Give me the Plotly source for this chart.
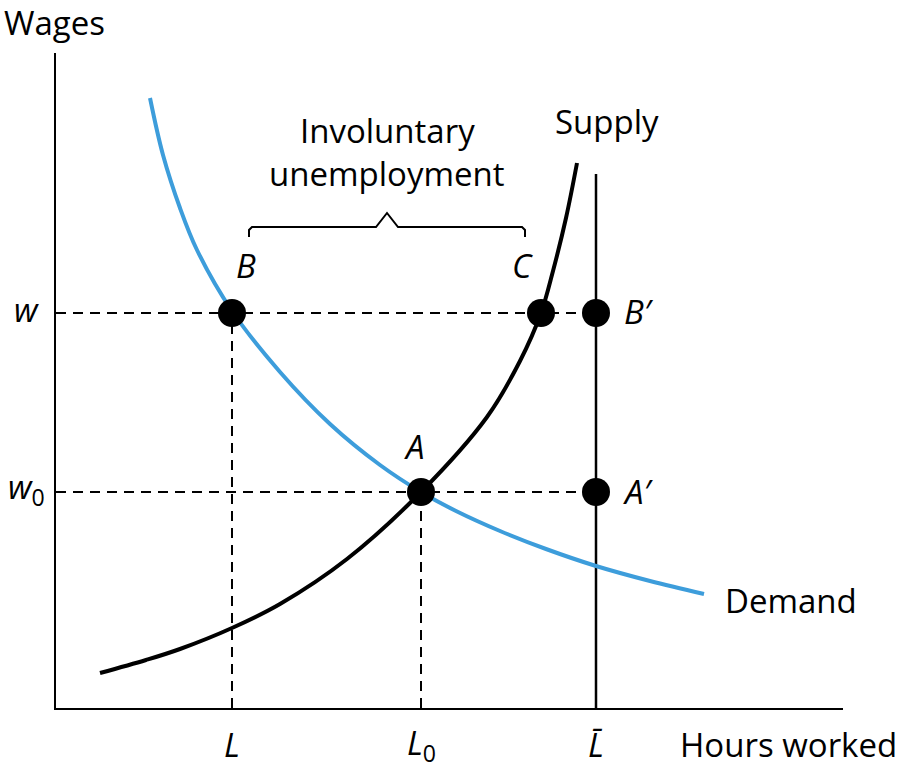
import plotly.graph_objects as go

# ---- data (units: horizontal / vertical distance from origin) ----
demand_x = [94, 107, 124, 141, 176, 224, 274, 324, 365, 400, 444, 490, 540, 594, 648]
demand_y = [610, 553, 500, 458, 397, 336, 284, 243, 216, 197, 177, 159, 142, 127, 114]

supply_x = [44, 90, 124, 176, 224, 291, 365, 431, 464, 485, 497, 510, 521]
supply_y = [35, 48, 59, 80, 104, 149, 216, 291, 347, 395, 437, 490, 545]

L, L0, Lbar = 176, 365, 540
w, w0 = 395, 216
C_x = 485
Lbar_top = 534

point_x = [L, C_x, Lbar, L0, Lbar]
point_y = [w, w, w, w0, w0]

x_ticks = [L, L0, Lbar]
x_tick_text = ["<i>L</i>", "<i>L</i><sub>0</sub>", "<i>L̄</i>"]
y_ticks = [w, w0]
y_tick_text = ["<i>w</i>", "<i>w</i><sub>0</sub>"]

X_RANGE = [0, 787]
Y_RANGE = [0, 655]

FONT = "Open Sans"
FS = 33
BLUE = "#3d9ddb"

fig = go.Figure()

dash = "10px,7px"
for xs, ys in [([0, Lbar], [w, w]), ([0, Lbar], [w0, w0]), ([L, L], [0, w]), ([L0, L0], [0, w0])]:
    fig.add_trace(go.Scatter(x=xs, y=ys, mode="lines",
                             line=dict(color="black", width=2, dash=dash), hoverinfo="skip"))
# labour force vertical
fig.add_trace(go.Scatter(x=[Lbar, Lbar], y=[0, Lbar_top], mode="lines",
                         line=dict(color="black", width=2.5), hoverinfo="skip"))

# curves
fig.add_trace(go.Scatter(x=demand_x, y=demand_y, mode="lines", line_shape="spline",
                         line=dict(color=BLUE, width=4), hoverinfo="skip"))
fig.add_trace(go.Scatter(x=supply_x, y=supply_y, mode="lines", line_shape="spline",
                         line=dict(color="black", width=4), hoverinfo="skip"))

# brace over B..C
bl, br = L + 17, C_x - 16
mid = (bl + br) / 2
by = w + 86
fig.add_trace(go.Scatter(
    x=[bl, bl, bl + 3, mid - 11, mid, mid + 11, br - 3, br, br],
    y=[by - 10, by - 3, by, by, by + 14, by, by, by - 3, by - 10],
    mode="lines", line=dict(color="black", width=2), hoverinfo="skip"))

# points
fig.add_trace(go.Scatter(x=point_x, y=point_y, mode="markers",
                         marker=dict(color="black", size=28), hoverinfo="skip"))

ann = []
def add(text, x, y, xanchor="center", yanchor="middle"):
    ann.append(dict(text=text,
                    x=(x - X_RANGE[0]) / (X_RANGE[1] - X_RANGE[0]),
                    y=(y - Y_RANGE[0]) / (Y_RANGE[1] - Y_RANGE[0]),
                    xref="paper", yref="paper", showarrow=False,
                    xanchor=xanchor, yanchor=yanchor,
                    font=dict(family=FONT, size=FS, color="black")))

add("<i>B</i>", L + 14, w + 48)
add("<i>C</i>", C_x - 19, w + 48)
add("<i>B′</i>", Lbar + 26, w + 2, xanchor="left")
add("<i>A</i>", L0 - 7, w0 + 45)
add("<i>A′</i>", Lbar + 25, w0 + 1, xanchor="left")
add("Involuntary", mid, by + 96)
add("unemployment", mid, by + 54)
add("Supply", 497, 587, xanchor="left")
add("Demand", 667, 108, xanchor="left")
add("Wages", -54, 686, xanchor="left")
add("Hours worked", 622, -36, xanchor="left")
for xv, t in zip(x_ticks, x_tick_text):
    add(t, xv, -37)
for yv, t in zip(y_ticks, y_tick_text):
    add(t, -30, yv + 4)

fig.update_layout(
    width=902, height=776,
    margin=dict(l=56, r=59, t=53, b=68),
    paper_bgcolor="white", plot_bgcolor="white",
    showlegend=False,
    annotations=ann,
    xaxis=dict(range=X_RANGE, showgrid=False, zeroline=False, showticklabels=False,
               showline=True, linecolor="black", linewidth=2, ticks=""),
    yaxis=dict(range=Y_RANGE, showgrid=False, zeroline=False, showticklabels=False,
               showline=True, linecolor="black", linewidth=2, ticks=""),
)

fig.write_html("out.html", config={"displayModeBar": False},
               post_script="document.body.style.margin='0';")
